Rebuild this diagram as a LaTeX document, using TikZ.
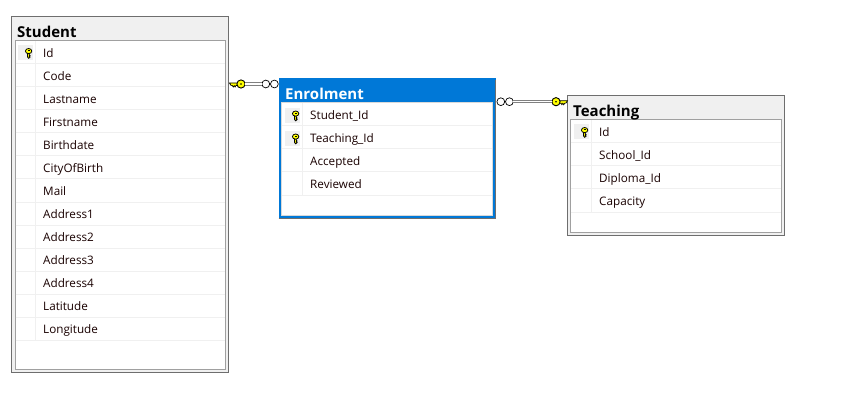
\documentclass[tikz,border=0pt]{standalone}
\usepackage{fontspec}
\setmainfont{Open Sans}
\definecolor{frame}{HTML}{6E6E6E}
\definecolor{inner}{HTML}{A0A0A0}
\definecolor{headbg}{HTML}{F0F0F0}
\definecolor{sep}{HTML}{F0F0F0}
\definecolor{selblue}{HTML}{0078D7}
\definecolor{keyy}{HTML}{FFFF00}
\tikzset{
  x=1pt,y=-1pt,
  tablebox/.style={draw=frame,line width=1.2pt,fill=headbg,rectangle,anchor=north west,inner sep=0pt,outer sep=0pt},
  selbox/.style={draw=selblue,line width=3pt,fill=selblue,rectangle,anchor=north west,inner sep=0pt,outer sep=0pt},
  gridbox/.style={draw=inner,line width=1pt,fill=white,rectangle,anchor=north west,inner sep=0pt,outer sep=0pt},
  rowtxt/.style={anchor=base west,inner sep=0pt,font=\fontsize{11.7}{14}\selectfont,text=black!90!red},
  ttl/.style={anchor=base west,inner sep=0pt,font=\fontsize{15}{18}\selectfont\bfseries},
  seprule/.style={draw=sep,line width=1pt},
  keycell/.style={fill=headbg,draw=none,rectangle,minimum width=15pt,minimum height=15pt,inner sep=0pt,outer sep=0pt},
  keyhead/.style={circle,draw=black,line width=.9pt,fill=keyy,minimum size=8.2pt,inner sep=0pt,outer sep=0pt},
  crow/.style={circle,draw=black,line width=.7pt,fill=white,minimum size=7.8pt,inner sep=0pt,outer sep=0pt},
  rel/.style={draw=gray,line width=1pt,double=white,double distance=1.4pt},
  colkey/.pic={
    \fill[keyy,draw=black,line width=.8pt] (-1,-1) -- (-1,3.6) -- (.2,5) -- (1.6,3.8) -- (.7,3) -- (1.6,2.2) -- (.7,1.5) -- (1,-1) -- cycle;
    \fill[keyy,draw=black,line width=.8pt] (.1,-2.2) ellipse [x radius=3.2, y radius=2.6];
    \fill[black] (-.8,-3) rectangle (1,-2);
  }
}
\begin{document}
\begin{tikzpicture}
\useasboundingbox[fill=white] (0,0) rectangle (841,401);
% Student
\node[tablebox,minimum width=217pt,minimum height=356pt] (student) at (11.6,16.5) {};
\node[gridbox,minimum width=210.5pt,minimum height=329pt] (studentgrid) at (15,40.3) {};
\node[ttl] (studenttitle) at (17,37.4) {Student};
\foreach \i in {1,...,13}{
  \draw[seprule] (15.5,{41+23*\i}) -- (225,{41+23*\i});
}
\draw[seprule] (35.7,40.8) -- (35.7,340.5);
\node[keycell] (studentcell) at (25.5,52.5) {};
\pic at (28.5,53.3) {colkey};
\foreach \t [count=\i from 0] in {Id,Code,Lastname,Firstname,Birthdate,CityOfBirth,Mail,Address1,Address2,Address3,Address4,Latitude,Longitude}{
  \node[rowtxt] (s\i) at (43,{57.7+23*\i}) {\t};
}
% Enrolment
\node[selbox,minimum width=214.5pt,minimum height=137.5pt] (enrol) at (280,79.5) {};
\draw[frame,line width=1pt] (278.5,218.5) -- (495.7,218.5) -- (495.7,80);
\node[gridbox,draw=white!70!gray,minimum width=210.5pt,minimum height=112.5pt] (enrolgrid) at (281.8,102.6) {};
\node[ttl,text=white] (enroltitle) at (285,99.7) {Enrolment};
\foreach \i in {1,...,4}{
  \draw[seprule] (282.3,{103+23*\i}) -- (492,{103+23*\i});
}
\draw[seprule] (302.3,103) -- (302.3,195);
\node[keycell] (ecell1) at (292.5,115.5) {};
\node[keycell] (ecell2) at (292.5,138.5) {};
\pic at (295.5,115.8) {colkey};
\pic at (295.5,138.8) {colkey};
\foreach \t [count=\i from 0] in {Student\_Id,Teaching\_Id,Accepted,Reviewed}{
  \node[rowtxt] (e\i) at (310,{119.7+23*\i}) {\t};
}
% Teaching
\node[tablebox,minimum width=217pt,minimum height=140pt] (teach) at (567.5,95.5) {};
\node[gridbox,minimum width=210.5pt,minimum height=113pt] (teachgrid) at (570.8,119.3) {};
\node[ttl] (teachtitle) at (573,116.4) {Teaching};
\foreach \i in {1,...,4}{
  \draw[seprule] (571.3,{120+23*\i}) -- (781,{120+23*\i});
}
\draw[seprule] (591.7,120) -- (591.7,212.5);
\node[keycell] (tcell) at (581.5,131.5) {};
\pic at (584.5,132.3) {colkey};
\foreach \t [count=\i from 0] in {Id,School\_Id,Diploma\_Id,Capacity}{
  \node[rowtxt] (t\i) at (599,{136.7+23*\i}) {\t};
}
% Relationship Student - Enrolment
\coordinate (r1tip) at (229.5,83);
\fill[keyy,draw=black,line width=.7pt] (r1tip) -- ++(8,0) -- ++(0,2.6) -- ++(-1.6,0) -- ++(-.8,1.4) -- ++(-.9,-1.4) -- ++(-.9,1.4) -- ++(-.9,-1.4) -- ++(-1.6,-.4) -- cycle;
\node[keyhead] (r1key) at (241,84) {};
\node[crow] (r1a) at (265.8,84) {};
\node[crow] (r1b) at (274.4,84) {};
\draw[rel] (r1key) -- (r1a);
\fill[black] (r1key.center) circle (.9);
% Relationship Enrolment - Teaching
\coordinate (r2tip) at (567.5,100.7);
\fill[keyy,draw=black,line width=.7pt] (r2tip) -- ++(-8,0) -- ++(0,2.6) -- ++(1.6,0) -- ++(.8,1.4) -- ++(.9,-1.4) -- ++(.9,1.4) -- ++(.9,-1.4) -- ++(1.6,-.4) -- cycle;
\node[crow] (r2a) at (500.8,101.7) {};
\node[crow] (r2b) at (509.4,101.7) {};
\node[keyhead] (r2key) at (556,101.7) {};
\draw[rel] (r2b) -- (r2key);
\fill[black] (r2key.center) circle (.9);
\end{tikzpicture}
\end{document}
